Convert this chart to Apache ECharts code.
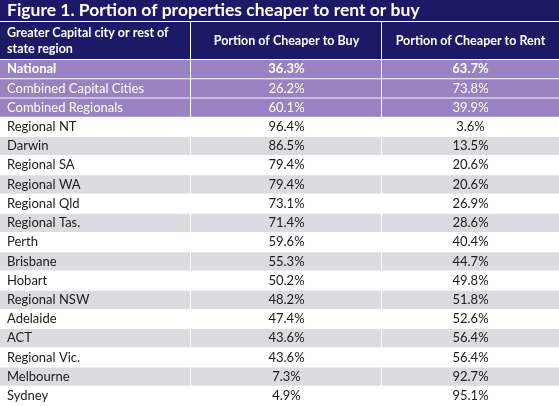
<!DOCTYPE html>
<html>
<head>
<meta charset="utf-8">
<script src="https://cdn.jsdelivr.net/npm/echarts@6/dist/echarts.min.js"></script>
<style>
html,body{margin:0;padding:0;background:#fff;}
#chart{width:559px;height:406px;}
</style>
</head>
<body>
<div id="chart"></div>
<script>
// ---- data ----
const titleText = 'Figure 1. Portion of properties cheaper to rent or buy';
const headers = ['Greater Capital city or rest of\nstate region', 'Portion of Cheaper to Buy', 'Portion of Cheaper to Rent'];
const regions = ['National', 'Combined Capital Cities', 'Combined Regionals', 'Regional NT', 'Darwin', 'Regional SA',
  'Regional WA', 'Regional Qld', 'Regional Tas.', 'Perth', 'Brisbane', 'Hobart', 'Regional NSW', 'Adelaide',
  'ACT', 'Regional Vic.', 'Melbourne', 'Sydney'];
const cheaperToBuy = [36.3, 26.2, 60.1, 96.4, 86.5, 79.4, 79.4, 73.1, 71.4, 59.6, 55.3, 50.2, 48.2, 47.4, 43.6, 43.6, 7.3, 4.9];
const cheaperToRent = [63.7, 73.8, 39.9, 3.6, 13.5, 20.6, 20.6, 26.9, 28.6, 40.4, 44.7, 49.8, 51.8, 52.6, 56.4, 56.4, 92.7, 95.1];

// ---- layout / style ----
const COL_EDGES = [0, 191, 382, 559];
const SUMMARY_ROWS = 3;
const NAVY = '#1c1a67';
const PURPLE = '#9a82c2';
const GRAY = '#dcdce0';
const FONT = 'Lato, "Noto Sans", sans-serif';

const chart = echarts.init(document.getElementById('chart'), null, {renderer: 'canvas'});

const headerData = headers.map((h, c) => [c, 0, h]);
const bodyData = [];
regions.forEach((r, i) => {
  bodyData.push([0, i, r]);
  bodyData.push([1, i, cheaperToBuy[i].toFixed(1) + '%']);
  bodyData.push([2, i, cheaperToRent[i].toFixed(1) + '%']);
});

function cellRender(isHeader) {
  return function (params, api) {
    const c = api.value(0);
    const r = api.value(1);
    const text = isHeader ? headers[c] : bodyData[params.dataIndex][2];
    const x0 = COL_EDGES[c], x1 = COL_EDGES[c + 1];
    const yc = api.coord([x0, r])[1];
    const h = api.size([0, 1])[1];
    const top = yc - h / 2;
    let fill, color, weight;
    if (isHeader) { fill = NAVY; color = '#fff'; weight = 'bold'; }
    else if (r < SUMMARY_ROWS) { fill = PURPLE; color = '#fff'; weight = r === 0 ? 'bold' : 'normal'; }
    else { fill = (r - SUMMARY_ROWS) % 2 === 0 ? '#ffffff' : GRAY; color = '#1a1a1a'; weight = 'normal'; }
    const left = c === 0;
    return {
      type: 'group',
      children: [
        { type: 'rect', shape: { x: x0, y: top, width: x1 - x0 - (c < 2 ? 1 : 0), height: h - 1 }, style: { fill: fill } },
        { type: 'text', style: {
            text: text, x: left ? x0 + 7 : (x0 + x1) / 2, y: yc - 0.5,
            align: left ? 'left' : 'center', verticalAlign: 'middle',
            fill: color, fontFamily: FONT, fontSize: isHeader ? 12.5 : 13, fontWeight: weight,
            lineHeight: 16
          } }
      ]
    };
  };
}

const option = {
  backgroundColor: '#fff',
  animation: false,
  title: {
    text: titleText, left: 7, top: 0, padding: 0,
    textStyle: { color: '#fff', fontFamily: FONT, fontSize: 17.5, fontWeight: 'bold', lineHeight: 21 }
  },
  graphic: [
    { type: 'rect', z: -1, shape: { x: 0, y: 0, width: 559, height: 21 }, style: { fill: NAVY } }
  ],
  grid: [
    { left: 0, right: 0, top: 22, height: 38 },
    { left: 0, right: 0, top: 60, bottom: 0 }
  ],
  xAxis: [
    { gridIndex: 0, type: 'value', min: 0, max: 559, show: false },
    { gridIndex: 1, type: 'value', min: 0, max: 559, show: false }
  ],
  yAxis: [
    { gridIndex: 0, type: 'category', data: ['header'], inverse: true, show: false },
    { gridIndex: 1, type: 'category', data: regions, inverse: true, show: false }
  ],
  series: [
    { type: 'custom', xAxisIndex: 0, yAxisIndex: 0, data: headerData, renderItem: cellRender(true), silent: true },
    { type: 'custom', xAxisIndex: 1, yAxisIndex: 1, data: bodyData.map(d => [d[0], d[1]]), renderItem: cellRender(false), silent: true }
  ]
};
chart.setOption(option);
</script>
</body>
</html>
